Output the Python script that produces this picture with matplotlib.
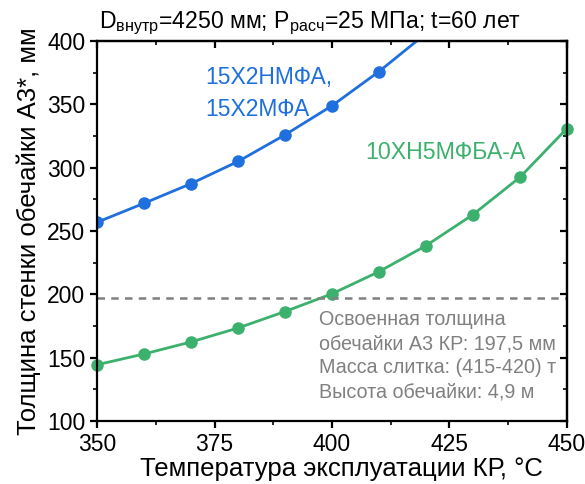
import matplotlib
matplotlib.use("Agg")
import matplotlib.pyplot as plt
from matplotlib.ticker import MultipleLocator

plt.rcParams['font.family'] = ['Liberation Sans', 'DejaVu Sans']
plt.rcParams['mathtext.fontset'] = 'custom'
plt.rcParams['mathtext.rm'] = 'Liberation Sans'
plt.rcParams['mathtext.it'] = 'Liberation Sans'

# data
temp_blue = [350, 360, 370, 380, 390, 400, 410, 420]
thick_blue = [257, 272, 287.5, 305, 326, 349, 376, 406]
temp_green = [350, 360, 370, 380, 390, 400, 410, 420, 430, 440, 450]
thick_green = [144.5, 153, 162.5, 173.5, 186.5, 200.5, 218, 238.5, 263, 292.5, 331]
mastered = 197.5

blue = '#1f6fdf'
green = '#3cb16e'
grey = '#808080'

fig = plt.figure(figsize=(5.85, 4.84), dpi=100)
ax = fig.add_axes([0.166, 0.130, 0.803, 0.785])

ax.plot(temp_blue, thick_blue, '-o', color=blue, lw=2, ms=8, clip_on=True)
ax.plot(temp_green, thick_green, '-o', color=green, lw=2, ms=8, clip_on=False)
ax.axhline(mastered, color=grey, lw=1.8, ls=(0, (3, 2.5)))

ax.set_xlim(350, 450)
ax.set_ylim(100, 400)
ax.xaxis.set_major_locator(MultipleLocator(25))
ax.xaxis.set_minor_locator(MultipleLocator(12.5))
ax.yaxis.set_major_locator(MultipleLocator(50))
ax.yaxis.set_minor_locator(MultipleLocator(25))

for s in ax.spines.values():
    s.set_linewidth(1.6)
ax.tick_params(which='major', direction='out', length=5, width=1.6, labelsize=16.5,
               top=False, right=False)
ax.tick_params(which='minor', direction='out', length=3, width=1.2, top=False, right=False)

# mirrored ticks on top/right pointing inside
ax_t = ax.secondary_xaxis('top')
ax_t.xaxis.set_major_locator(MultipleLocator(25))
ax_t.xaxis.set_minor_locator(MultipleLocator(12.5))
ax_t.tick_params(which='major', direction='in', length=5, width=1.6, labeltop=False)
ax_t.tick_params(which='minor', direction='in', length=3, width=1.2)
ax_r = ax.secondary_yaxis('right')
ax_r.yaxis.set_major_locator(MultipleLocator(50))
ax_r.yaxis.set_minor_locator(MultipleLocator(25))
ax_r.tick_params(which='major', direction='in', length=5, width=1.6, labelright=False)
ax_r.tick_params(which='minor', direction='in', length=3, width=1.2)
for s in list(ax_t.spines.values()) + list(ax_r.spines.values()):
    s.set_linewidth(1.6)

ax.set_xlabel('Температура эксплуатации КР, °C', fontsize=18.5)
ax.set_ylabel('Толщина стенки обечайки А3*, мм', fontsize=18.5, labelpad=4)
ax.xaxis.set_label_coords(0.521, -0.095)

ax.text(0.005, 1.01, 'D$_\\mathrm{внутр}$=4250 мм; P$_\\mathrm{расч}$=25 МПа; t=60 лет',
        transform=ax.transAxes, ha='left', va='bottom', fontsize=16.6)

ax.text(373, 380, '15Х2НМФА,\n15Х2МФА', color=blue, fontsize=16.5, ha='left', va='top',
        linespacing=1.45)
ax.text(407, 312, '10ХН5МФБА-А', color=green, fontsize=16.7, ha='left', va='center')
ax.text(397.3, 188, 'Освоенная толщина\nобечайки А3 КР: 197,5 мм\nМасса слитка: (415-420) т\nВысота обечайки: 4,9 м',
        color=grey, fontsize=14.2, ha='left', va='top', linespacing=1.36)

fig.savefig('out.png', dpi=100)
